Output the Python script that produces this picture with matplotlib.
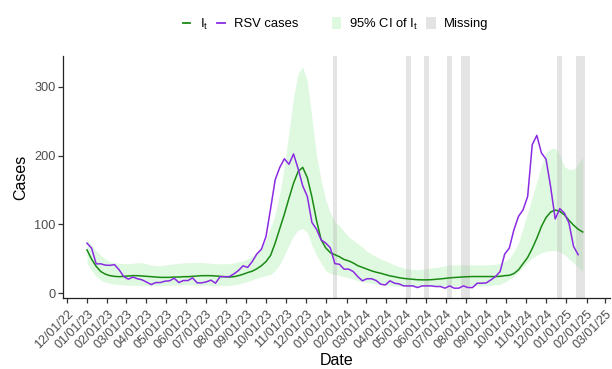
import matplotlib
matplotlib.use("Agg")
import matplotlib.pyplot as plt
import matplotlib.dates as mdates
import matplotlib.transforms as mtransforms
from matplotlib.lines import Line2D
from matplotlib.patches import Patch
import pandas as pd

plt.rcParams['font.family'] = ['Liberation Sans', 'DejaVu Sans']
plt.rcParams['mathtext.fontset'] = 'custom'
plt.rcParams['mathtext.rm'] = 'Liberation Sans'
plt.rcParams['mathtext.it'] = 'Liberation Sans:italic'

# ---------------- data (weekly, starting 2023-01-01) ----------------
start_date = "2023-01-01"

rsv_cases = [72.8, 65.5, 42.7, 42.7, 40.8, 40.5, 41.5, 34, 24.3, 20.4,
             23.5, 21, 19.4, 16, 12.6, 15.5, 15.5, 17.5, 18, 21.8,
             15.5, 18.4, 18.4, 22.3, 15, 15, 16.5, 19, 14.5, 24,
             24, 24, 28, 33, 39.8, 37.5, 46, 57, 64, 82.5,
             123, 165, 183, 195.5, 187.5, 202.5, 181, 156, 140.7, 103,
             93, 77.6, 73, 66, 43, 42, 35, 35, 31.5, 24,
             18, 21, 21, 18.4, 13, 12, 18, 14.5, 13.5, 10.6,
             10.6, 10.6, 8.2, 10.6, 10.6, 10.6, 9.7, 9.7, 7.3, 10.6,
             7.3, 7.3, 10.6, 8.2, 8.2, 14.5, 14.5, 15, 19.4, 24.2,
             31.5, 57, 65.5, 92, 111.6, 121.3, 140.7, 216, 229.5, 204,
             195, 155, 108, 123, 116.5, 102, 68, 56]

i_t = [63, 49.5, 39, 31.5, 27.7, 25.5, 24.5, 24, 24.5, 25,
       25.5, 25.5, 25, 24.5, 24, 23.5, 23, 23, 23, 23.5,
       23.5, 24, 24, 24.5, 25, 25.5, 25.5, 25.5, 25, 24.5,
       24, 23.5, 24, 25.5, 27.5, 30, 32, 35.5, 40, 46,
       55, 73, 94, 115, 138, 160, 177, 183, 168, 140,
       106, 78, 66, 59, 56, 53, 49, 47, 44, 40,
       37.5, 35, 32.5, 30.5, 29, 27, 25.2, 24, 22.5, 21.5,
       20.8, 20.2, 19.6, 19.4, 19.4, 19.6, 20.2, 20.8, 21.5, 22.3,
       22.8, 23.2, 23.7, 24, 24.2, 24.2, 24.2, 24.2, 24.2, 24.2,
       24.5, 25.5, 26, 28.5, 34, 43, 52, 65, 80, 97,
       110, 118, 121, 119, 114, 106, 99, 93, 89]

ci_upper = [78, 70, 62, 55, 50, 46, 44.5, 43.5, 43, 43,
            43.5, 44.5, 44, 43, 41, 40, 40, 41, 42, 42.7,
            43.5, 44, 44.5, 44.6, 44.6, 44.6, 44, 43.5, 43, 42.7,
            42.7, 43, 44, 45.6, 47, 50, 54, 58, 66, 78,
            95, 115, 145, 185, 235, 285, 320, 329, 308, 255,
            200, 165, 136, 117, 104, 98, 90, 82, 77, 72,
            67, 61, 57, 53, 50, 47, 44, 41, 39, 36.5,
            35, 34.5, 34, 35, 36, 37, 37.5, 38.5, 40, 41,
            41.2, 41.2, 41.2, 41.2, 41.2, 41.2, 41.2, 41.2, 41.5, 42,
            43.7, 46, 51, 60, 73, 95, 117, 140, 162, 185,
            205, 210, 211, 201, 184, 180, 180, 187, 199]

ci_lower = [44, 33, 25, 19, 16, 14.5, 13, 12.5, 12, 11.5,
            11.5, 11.5, 11, 11, 11, 11, 11, 11, 11.5, 11.5,
            12, 12, 12, 12, 11.5, 11.5, 11.5, 11, 11, 11,
            11, 11.5, 12, 13, 15, 17, 19.4, 22, 24, 26,
            27, 33, 42, 55, 70, 83, 92, 94, 88, 70,
            55, 44, 33, 29, 27, 26, 24, 22.5, 20.5, 18,
            16.5, 15.5, 14.5, 13.5, 12.5, 12, 11, 10.5, 10, 9.7,
            9.7, 9.7, 9.7, 9.7, 10, 10.3, 10.6, 10.6, 10.6, 10.6,
            10.6, 10.6, 10.6, 10.6, 10.6, 10.6, 10.6, 11, 11.5, 12,
            13, 16, 20, 25, 31, 38, 45, 51, 55, 59,
            61, 62, 62, 60, 56, 50, 44, 38, 32]

missing_weeks = ["2024-01-14", "2024-05-05", "2024-06-02", "2024-07-07",
                 "2024-07-28", "2024-08-04", "2024-12-22", "2025-01-19",
                 "2025-01-26"]

tick_dates = pd.date_range("2022-12-01", "2025-03-01", freq="MS")
y_ticks = [0, 100, 200, 300]

# ---------------- plotting ----------------
dates_rsv = pd.date_range(start_date, periods=len(rsv_cases), freq="7D")
dates_it = pd.date_range(start_date, periods=len(i_t), freq="7D")

fig = plt.figure(figsize=(6.12, 3.69), dpi=100)
ax = fig.add_axes([63/612, 1-298/369, (610-63)/612, (298-56)/369])

green = "#1a8a14"
purple = "#8a2be2"
ci_fill = "#dff9e0"

ax.fill_between(dates_it, ci_lower, ci_upper, color=ci_fill, lw=0, zorder=1)
for d in missing_weeks:
    t = pd.Timestamp(d)
    ax.axvspan(t - pd.Timedelta(days=3.5), t + pd.Timedelta(days=3.5),
               color="#b4b4b4", alpha=0.35, lw=0, zorder=2)
ax.plot(dates_it, i_t, color=green, lw=1.1, zorder=3)
ax.plot(dates_rsv, rsv_cases, color=purple, lw=1.1, zorder=4)

ax.set_xlim(pd.Timestamp("2022-11-25 10:00"), pd.Timestamp("2025-03-08 14:00"))
ax.set_ylim(-7, 345)
ax.set_yticks(y_ticks)
ax.set_xticks(tick_dates)
ax.xaxis.set_major_formatter(mdates.DateFormatter("%m/%d/%y"))

ax.tick_params(axis="both", colors="#333333", labelcolor="#4d4d4d",
               labelsize=9.0, length=3.5, width=0.9)
ax.tick_params(axis="x", pad=2)
ax.tick_params(axis="y", pad=2, labelsize=9.2)

offset = mtransforms.ScaledTranslation(0.5/100, -2.5/100, fig.dpi_scale_trans)
for lab in ax.get_xticklabels():
    lab.set_rotation(45)
    lab.set_ha("right")
    lab.set_va("top")
    lab.set_rotation_mode("anchor")
    lab.set_transform(lab.get_transform() + offset)

for s in ["top", "right"]:
    ax.spines[s].set_visible(False)
for s in ["left", "bottom"]:
    ax.spines[s].set_linewidth(0.9)
    ax.spines[s].set_color("#222222")

ax.set_xlabel("Date", fontsize=11.5)
ax.xaxis.set_label_coords(0.5, (298-353)/242)
ax.set_ylabel("Cases", fontsize=11.5, labelpad=3.8)

h1 = [Line2D([], [], color=green, lw=1.3), Line2D([], [], color=purple, lw=1.3)]
leg1 = fig.legend(h1, [r"$\mathrm{I}_\mathrm{t}$", "RSV cases"], ncol=2,
                  loc="center left", bbox_to_anchor=(183/612, 1-24/369),
                  frameon=False, fontsize=9.4, handlelength=0.55,
                  handletextpad=0.75, columnspacing=0.7, borderpad=0,
                  borderaxespad=0)
h2 = [Patch(facecolor=ci_fill, edgecolor="none"),
      Patch(facecolor="#e3e3e3", edgecolor="none")]
leg2 = fig.legend(h2, [r"95% CI of $\mathrm{I}_\mathrm{t}$", "Missing"], ncol=2,
                  loc="center left", bbox_to_anchor=(332/612, 1-24/369),
                  frameon=False, fontsize=9.4, handlelength=0.7,
                  handleheight=1.0, handletextpad=0.6, columnspacing=0.65,
                  borderpad=0, borderaxespad=0)

fig.savefig("out.png", dpi=100)
